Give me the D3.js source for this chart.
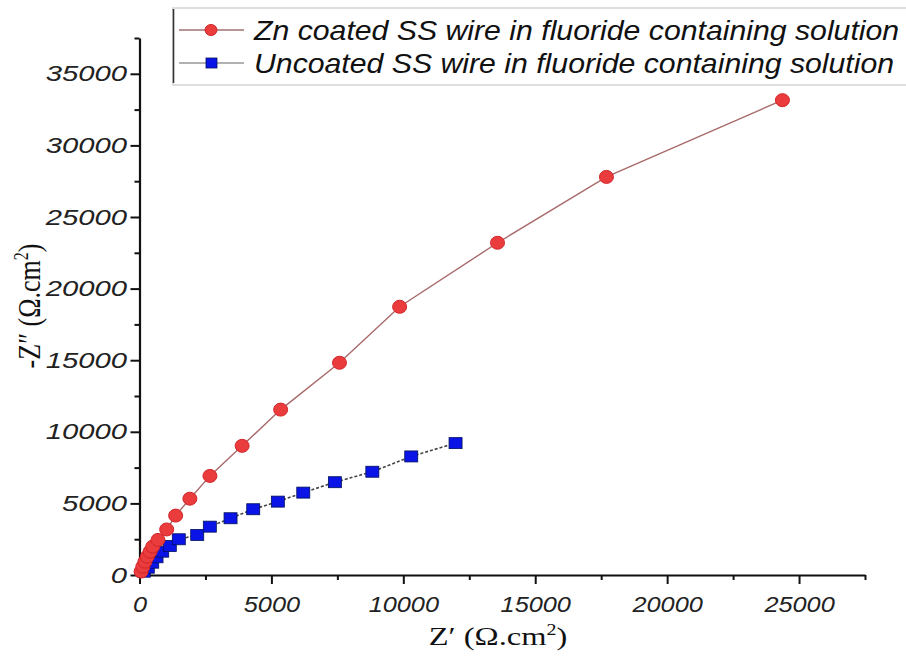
<!DOCTYPE html>
<html>
<head>
<meta charset="utf-8">
<script src="https://cdn.jsdelivr.net/npm/d3@7/dist/d3.min.js"></script>
<style>
  body { margin: 0; background: #fff; }
  svg { display: block; }
</style>
</head>
<body>
<svg id="chart" width="906" height="664"></svg>
<script>
// Nyquist data: real part Z' and imaginary part -Z'' (Ω·cm²)
const seriesNames = [
  "Zn coated SS wire in fluoride containing solution",
  "Uncoated SS wire in fluoride containing solution"
];
const coatedZre = [60, 125, 205, 295, 400, 500, 700, 1030, 1370, 1910, 2670, 3890, 5350, 7580, 9860, 13570, 17700, 24370];
const coatedZim = [240, 580, 930, 1280, 1630, 1980, 2450, 3180, 4150, 5330, 6920, 9020, 11550, 14820, 18730, 23200, 27800, 33160];
const uncoatedZre = [163, 315, 482, 645, 861, 1149, 1490, 2188, 2666, 3451, 4311, 5244, 6208, 7406, 8826, 10300, 11980];
const uncoatedZim = [231, 510, 860, 1237, 1629, 2027, 2495, 2796, 3376, 3963, 4592, 5124, 5753, 6480, 7211, 8280, 9210];

const xTickValues = [0, 5000, 10000, 15000, 20000, 25000];
const yTickValues = [0, 5000, 10000, 15000, 20000, 25000, 30000, 35000];
const xMinorValues = [2500, 7500, 12500, 17500, 22500, 27500];
const yMinorValues = [2500, 7500, 12500, 17500, 22500, 27500, 32500, 37500];
const xDomain = [0, 27500];
const yDomain = [0, 37500];

const svg = d3.select("#chart");
const plot = { left: 139.5, right: 865, top: 38, bottom: 575 };

const x = d3.scaleLinear().domain(xDomain).range([plot.left, plot.right]);
const y = d3.scaleLinear().domain(yDomain).range([plot.bottom, plot.top]);

const sans = "'Liberation Sans', Arial, sans-serif";
const serif = "'Liberation Serif', 'Times New Roman', serif";
// glyphs in this figure are drawn slightly wide
const wideX = 1.15, wideY = 1.33, wideTitle = 1.25;

// ---- axes ----
function styleAxis(g) {
  g.select(".domain").attr("stroke", "#111").attr("stroke-width", 2.2);
  g.selectAll(".tick line").attr("stroke", "#111").attr("stroke-width", 2);
}

const xAxisG = svg.append("g")
  .attr("transform", `translate(0,${plot.bottom})`)
  .call(d3.axisBottom(x).tickValues(xTickValues).tickSize(9).tickSizeOuter(0).tickPadding(12)
    .tickFormat(d3.format("d")));
styleAxis(xAxisG);
xAxisG.selectAll(".tick text")
  .attr("font-family", sans).attr("font-style", "italic")
  .attr("font-size", 22).attr("fill", "#222")
  .attr("transform", `scale(${wideX},1)`);

svg.append("g")
  .attr("transform", `translate(0,${plot.bottom})`)
  .call(d3.axisBottom(x).tickValues(xMinorValues).tickSize(5).tickFormat(""))
  .call(g => g.select(".domain").remove())
  .call(g => g.selectAll(".tick line").attr("stroke", "#111").attr("stroke-width", 2));

const yAxisG = svg.append("g")
  .attr("transform", `translate(${plot.left},0)`)
  .call(d3.axisLeft(y).tickValues(yTickValues).tickSize(9).tickSizeOuter(0).tickPadding(12)
    .tickFormat(d3.format("d")));
styleAxis(yAxisG);
yAxisG.selectAll(".tick text")
  .attr("font-family", sans).attr("font-style", "italic")
  .attr("font-size", 22).attr("fill", "#222")
  .attr("x", -12.5 / wideY)
  .attr("transform", `scale(${wideY},1)`);

svg.append("g")
  .attr("transform", `translate(${plot.left},0)`)
  .call(d3.axisLeft(y).tickValues(yMinorValues).tickSize(5).tickFormat(""))
  .call(g => g.select(".domain").remove())
  .call(g => g.selectAll(".tick line").attr("stroke", "#111").attr("stroke-width", 2));

// ---- axis titles ----
const xTitle = svg.append("text")
  .attr("transform", `translate(498,645) scale(${wideTitle},1)`)
  .attr("text-anchor", "middle")
  .attr("font-family", serif).attr("font-size", 26).attr("fill", "#111");
xTitle.append("tspan").text("Z\u2032 (\u03A9.cm");
xTitle.append("tspan").attr("font-size", 16).attr("dy", -10).text("2");
xTitle.append("tspan").attr("dy", 10).text(")");

const yTitle = svg.append("text")
  .attr("transform", `translate(40,306) scale(${wideTitle},1) rotate(-90)`)
  .attr("text-anchor", "middle")
  .attr("font-family", serif).attr("font-size", 26).attr("fill", "#111");
yTitle.append("tspan").text("-Z\u2033 (\u03A9.cm");
yTitle.append("tspan").attr("font-size", 16).attr("dy", -10).text("2");
yTitle.append("tspan").attr("dy", 10).text(")");

// ---- series ----
const coated = coatedZre.map((v, i) => [v, coatedZim[i]]);
const uncoated = uncoatedZre.map((v, i) => [v, uncoatedZim[i]]);
const line = d3.line().x(d => x(d[0])).y(d => y(d[1]));

const redFill = "#ea3b3d", redStroke = "#d2262a", redLine = "#a86a6a";
const blueFill = "#0a14e6", blueStroke = "#00105a", blueLine = "#444";

svg.append("path").datum(uncoated)
  .attr("d", line).attr("fill", "none")
  .attr("stroke", blueLine).attr("stroke-width", 1.6).attr("stroke-dasharray", "3,2");

svg.append("g").selectAll("rect").data(uncoated).join("rect")
  .attr("x", d => x(d[0]) - 6.5).attr("y", d => y(d[1]) - 5.5)
  .attr("width", 13).attr("height", 11)
  .attr("fill", blueFill).attr("stroke", blueStroke).attr("stroke-width", 0.8);

svg.append("path").datum(coated)
  .attr("d", line).attr("fill", "none")
  .attr("stroke", redLine).attr("stroke-width", 1.4);

svg.append("g").selectAll("ellipse").data(coated).join("ellipse")
  .attr("cx", d => x(d[0])).attr("cy", d => y(d[1]))
  .attr("rx", 7).attr("ry", 6.5)
  .attr("fill", redFill).attr("stroke", redStroke).attr("stroke-width", 1);

// ---- legend ----
const legend = svg.append("g");
legend.append("rect")
  .attr("x", 173).attr("y", 8).attr("width", 760).attr("height", 77)
  .attr("fill", "#fff").attr("stroke", "#d4d4d4").attr("stroke-width", 1.5);
legend.append("line")
  .attr("x1", 173.5).attr("x2", 173.5).attr("y1", 9).attr("y2", 83)
  .attr("stroke", "#333").attr("stroke-width", 1.6);

const rows = [30, 63];
seriesNames.forEach((name, i) => {
  const cy = rows[i];
  legend.append("line")
    .attr("x1", 179).attr("x2", 244).attr("y1", cy).attr("y2", cy)
    .attr("stroke", i === 0 ? "#a07070" : "#999").attr("stroke-width", 1.5);
  if (i === 0) {
    legend.append("ellipse").attr("cx", 211).attr("cy", cy).attr("rx", 6).attr("ry", 5.5)
      .attr("fill", redFill).attr("stroke", redStroke);
  } else {
    legend.append("rect").attr("x", 206).attr("y", cy - 5).attr("width", 11).attr("height", 10)
      .attr("fill", blueFill).attr("stroke", blueStroke).attr("stroke-width", 0.8);
  }
  legend.append("text")
    .attr("transform", `translate(254,${cy + 10}) scale(1.08,1)`)
    .attr("font-family", sans).attr("font-style", "italic")
    .attr("font-size", 28).attr("fill", "#111")
    .text(name);
});
</script>
</body>
</html>
